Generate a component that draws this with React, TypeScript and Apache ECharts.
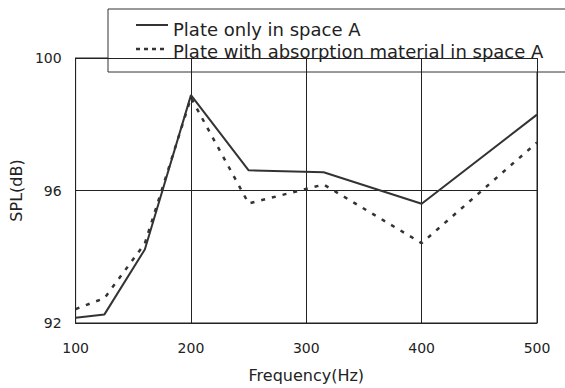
import React, { useEffect, useRef } from "react";
import * as echarts from "echarts";

const frequencies = [100, 125, 160, 200, 250, 315, 400, 500];
const plateOnly = [92.16, 92.26, 94.22, 98.88, 96.61, 96.55, 95.6, 98.29];
const plateAbsorb = [92.42, 92.75, 94.4, 98.8, 95.61, 96.18, 94.41, 97.45];
const seriesNames = ["Plate only in space A", "Plate with absorption material in space A"];
const xTicks = [100, 200, 300, 400, 500];
const yTicks = [92, 96, 100];

const FONT = "'DejaVu Sans', sans-serif";

export default function App() {
  const ref = useRef<HTMLDivElement>(null);
  useEffect(() => {
    if (!ref.current) return;
    const chart = echarts.init(ref.current, undefined, { renderer: "svg" });
    const axisCol = "#222";
    const lineCol = "#333";
    chart.setOption({
      animation: false,
      backgroundColor: "#fff",
      textStyle: { fontFamily: FONT },
      grid: { left: 75, right: 28, top: 58, bottom: 62, show: true, borderColor: axisCol, borderWidth: 1 },
      graphic: [
        {
          type: "group",
          z: 100,
          children: [
            {
              type: "rect",
              shape: { x: 108, y: 9, width: 470, height: 63 },
              style: { fill: "#fff", stroke: "#333", lineWidth: 1 },
            },
            {
              type: "line",
              shape: { x1: 136, y1: 25, x2: 168, y2: 25 },
              style: { stroke: lineCol, lineWidth: 2 },
            },
            {
              type: "text",
              x: 173,
              y: 29,
              style: { text: seriesNames[0], font: `18px ${FONT}`, fill: "#222", verticalAlign: "middle" },
            },
            {
              type: "line",
              shape: { x1: 136, y1: 49, x2: 168, y2: 49 },
              style: { stroke: lineCol, lineWidth: 2.5, lineDash: [4, 4] },
            },
            {
              type: "text",
              x: 173,
              y: 51,
              style: { text: seriesNames[1], font: `18px ${FONT}`, fill: "#222", verticalAlign: "middle" },
            },
          ],
        },
      ],
      xAxis: {
        type: "value",
        min: xTicks[0],
        max: xTicks[xTicks.length - 1],
        interval: 100,
        name: "Frequency(Hz)",
        nameLocation: "middle",
        nameGap: 44,
        nameTextStyle: { fontFamily: FONT, fontSize: 16, color: "#222" },
        axisLine: { lineStyle: { color: axisCol, width: 1 } },
        axisTick: { show: false },
        axisLabel: { fontFamily: FONT, fontSize: 14, color: "#222", margin: 18 },
        splitLine: { show: true, lineStyle: { color: axisCol, width: 1 } },
      },
      yAxis: {
        type: "value",
        min: yTicks[0],
        max: yTicks[yTicks.length - 1],
        interval: 4,
        name: "SPL(dB)",
        nameLocation: "middle",
        nameGap: 50,
        nameTextStyle: { fontFamily: FONT, fontSize: 16, color: "#222" },
        axisLine: { lineStyle: { color: axisCol, width: 1 } },
        axisTick: { show: false },
        axisLabel: { fontFamily: FONT, fontSize: 14, color: "#222", margin: 14 },
        splitLine: { show: true, lineStyle: { color: axisCol, width: 1 } },
      },
      series: [
        {
          name: seriesNames[0],
          type: "line",
          symbol: "none",
          data: frequencies.map((f, i) => [f, plateOnly[i]]),
          lineStyle: { color: lineCol, width: 2, type: "solid" },
          itemStyle: { color: lineCol },
        },
        {
          name: seriesNames[1],
          type: "line",
          symbol: "none",
          data: frequencies.map((f, i) => [f, plateAbsorb[i]]),
          lineStyle: { color: lineCol, width: 2.5, type: [4, 7] },
          itemStyle: { color: lineCol },
        },
      ],
    });
    return () => chart.dispose();
  }, []);
  return <div ref={ref} style={{ position: "fixed", left: 0, top: 0, width: 565, height: 388 }} />;
}
